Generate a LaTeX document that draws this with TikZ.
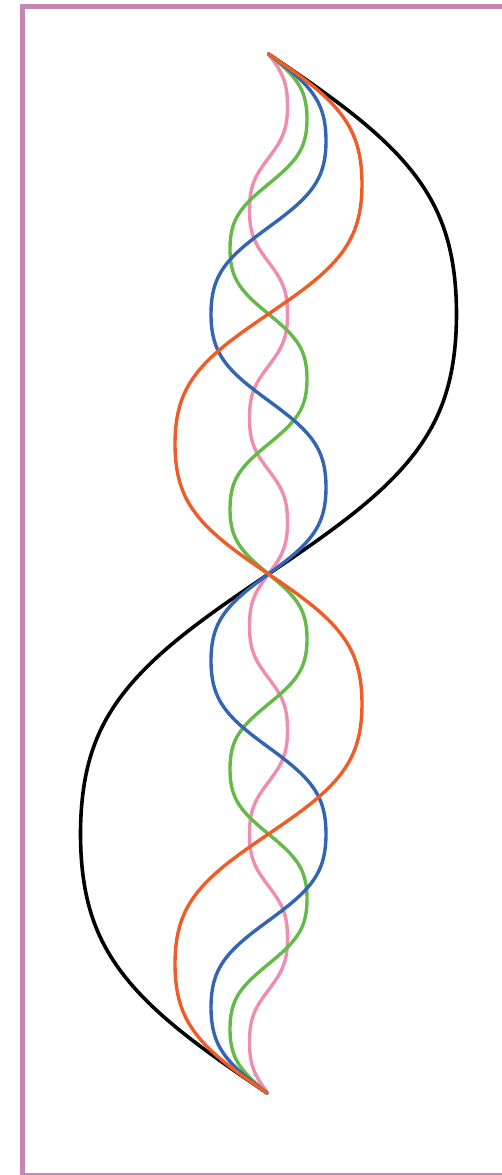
\documentclass[tikz,border=0pt]{standalone}
\definecolor{framec}{RGB}{196,135,180}
\definecolor{worange}{RGB}{240,92,38}
\definecolor{wblue}{RGB}{52,100,180}
\definecolor{wgreen}{RGB}{100,186,70}
\definecolor{wpink}{RGB}{240,140,176}
\tikzset{
  wave/.style={line width=3.4pt, line cap=round, line join=round},
  declare function={wf(\t)=sin(\t)*(1+0.3*cos(\t)*cos(\t));},
}
\begin{document}
\begin{tikzpicture}[x=1pt,y=-1pt]
\useasboundingbox (0,0) rectangle (502,1175);
\clip (0,0) rectangle (502,1175);
\fill[white] (0,0) rectangle (502,1175);
\draw[framec, line width=5.5pt] (22.5,6.5) rectangle (506,1175.6);
\draw[wave, black, line width=3.6pt] plot[domain=0:1, samples=300, smooth] ({268.5+188*wf(360*\x)}, {54+1040*\x});
\draw[wave, wpink] plot[domain=0:1, samples=400, smooth] ({268.5+19*wf(1800*\x)}, {54+1040*\x});
\draw[wave, wgreen] plot[domain=0:1, samples=400, smooth] ({268.5+38.5*wf(1440*\x)}, {54+1040*\x});
\draw[wave, wblue] plot[domain=0:1, samples=400, smooth] ({268.5+57.5*wf(1080*\x)}, {54+1040*\x});
\draw[wave, worange] plot[domain=0:1, samples=400, smooth] ({268.5+93.5*wf(720*\x)}, {54+1040*\x});
\end{tikzpicture}
\end{document}
